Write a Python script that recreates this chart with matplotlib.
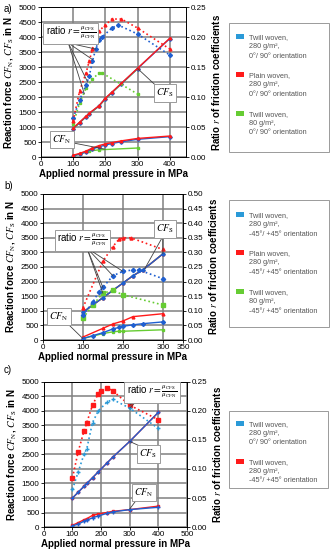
import matplotlib
matplotlib.use("Agg")
import matplotlib.pyplot as plt
from matplotlib.patches import Rectangle

plt.rcParams['font.family'] = ['Liberation Sans', 'DejaVu Sans']
plt.rcParams['mathtext.fontset'] = 'stix'

BLUE = '#1f5fd0'
BLUE_LIGHT = '#2a9ad8'
RED = '#ff1a1a'
GREEN = '#66cc33'
GRID = '#808080'

# ---- panel a) 0/90 orientation ----
a_x = [100, 120, 140, 150, 180, 200, 220, 250, 300, 400]
a_cfs_blue = [950, 1150, 1350, 1450, 1700, 1950, 2150, 2450, 2950, 3950]
a_cfs_red = [960, 1160, 1360, 1460, 1710, 1960, 2160, 2460, 2960, 3960]
a_x_green = [100, 120, 140, 150, 180, 200, 220, 250, 300]
a_cfs_green = [940, 1140, 1340, 1440, 1690, 1940, 2140, 2440, 2940]
a_xn = [100, 120, 140, 160, 180, 200, 220, 250, 300, 400]
a_cfn_blue = [40, 100, 170, 270, 340, 400, 450, 510, 590, 680]
a_cfn_red = [60, 120, 200, 300, 380, 440, 480, 540, 620, 700]
a_xn_green = [100, 120, 150, 180, 300]
a_cfn_green = [30, 100, 200, 240, 300]
a_xr_blue = [100, 120, 140, 150, 160, 170, 180, 190, 220, 240, 300, 400]
a_r_blue = [0.065, 0.095, 0.12, 0.135, 0.16, 0.18, 0.195, 0.20, 0.215, 0.22, 0.205, 0.17]
a_xr_red = [100, 120, 140, 150, 160, 170, 180, 200, 220, 250, 300, 400]
a_r_red = [0.06, 0.11, 0.14, 0.16, 0.18, 0.20, 0.21, 0.22, 0.23, 0.23, 0.215, 0.18]
a_xr_green = [100, 120, 140, 160, 180, 190, 300]
a_r_green = [0.055, 0.09, 0.115, 0.13, 0.14, 0.14, 0.105]

# ---- panel b) -45/+45 orientation ----
b_x = [100, 125, 150, 175, 200, 225, 250, 300]
b_cfs = [950, 1200, 1450, 1700, 1950, 2200, 2400, 2950]
b_xn_red = [100, 150, 175, 200, 225, 300]
b_cfn_red = [100, 400, 550, 650, 800, 900]
b_xn_blue = [100, 125, 150, 175, 190, 200, 225, 250, 300]
b_cfn_blue = [50, 150, 250, 380, 430, 470, 520, 560, 620]
b_xn_green = [100, 150, 175, 190, 200, 300]
b_cfn_green = [50, 220, 280, 300, 300, 350]
b_xr_red = [100, 150, 175, 190, 200, 220, 300]
b_r_red = [0.11, 0.27, 0.32, 0.345, 0.35, 0.35, 0.31]
b_xr_blue = [100, 125, 140, 150, 175, 200, 225, 240, 300]
b_r_blue = [0.085, 0.13, 0.165, 0.18, 0.22, 0.235, 0.24, 0.24, 0.21]
b_xr_green = [100, 125, 150, 175, 200, 300]
b_r_green = [0.075, 0.12, 0.16, 0.17, 0.155, 0.12]

# ---- panel c) twill 280 g/m2, both orientations ----
c_x = [100, 120, 140, 150, 170, 190, 220, 240, 300, 400]
c_cfs = [1000, 1200, 1400, 1500, 1700, 1900, 2200, 2400, 2950, 3950]
c_cfn_red = [60, 150, 250, 290, 400, 450, 500, 540, 600, 720]
c_cfn_blue = [40, 100, 200, 230, 320, 380, 470, 520, 600, 680]
c_xr_red = [100, 120, 140, 150, 170, 190, 200, 220, 240, 300, 400]
c_r_red = [0.085, 0.13, 0.165, 0.18, 0.21, 0.23, 0.235, 0.24, 0.235, 0.21, 0.185]
c_r_blue = [0.065, 0.095, 0.125, 0.135, 0.18, 0.20, 0.215, 0.22, 0.205, 0.17]

leg_a = ['Twill woven,\n280 g/m²,\n0°/ 90° orientation',
         'Plain woven,\n280 g/m²,\n0°/ 90° orientation',
         'Twill woven,\n80 g/m²,\n0°/ 90° orientation']
leg_b = ['Twill woven,\n280 g/m²,\n-45°/ +45° orientation',
         'Plain woven,\n280 g/m²,\n-45°/ +45° orientation',
         'Twill woven,\n80 g/m²,\n-45°/ +45° orientation']
leg_c = ['Twill woven,\n280 g/m²,\n0°/ 90° orientation',
         'Twill woven,\n280 g/m²,\n-45°/ +45° orientation']

RATIO_TXT = r'ratio $r=\frac{\mu_{\rm CFS}}{\mu_{\rm CFN}}$'
CFS_TXT = r'$CF_{\rm S}$'
CFN_TXT = r'$CF_{\rm N}$'

fig = plt.figure(figsize=(3.3, 5.5), dpi=100)


def setup(rect, xmax, xticks, rmax, label, label_y):
    ax = fig.add_axes(rect)
    ax.set_xlim(0, xmax)
    ax.set_ylim(0, 5000)
    ax.set_xticks(xticks)
    ax.set_yticks(range(0, 5001, 500))
    ax.grid(True, color=GRID, lw=1.1)
    ax.set_axisbelow(True)
    ax.tick_params(labelsize=5.8, length=2, width=0.6, pad=1.2)
    ax.set_xlabel('Applied normal pressure in MPa', fontsize=7, fontweight='bold', labelpad=0.5)
    ax.set_ylabel(r'Reaction force $CF_{\rm N}$, $CF_{\rm S}$ in N', fontsize=7,
                  fontweight='bold', labelpad=3)
    ax2 = ax.twinx()
    ax2.set_ylim(0, rmax)
    n = int(round(rmax / 0.05))
    ax2.set_yticks([i * 0.05 for i in range(n + 1)])
    ax2.set_yticklabels([f'{i * 0.05:.2f}' for i in range(n + 1)])
    ax2.tick_params(labelsize=5.8, length=2, width=0.6, pad=1.2)
    ax2.set_ylabel(r'Ratio $r$ of friction coefficients', fontsize=7, fontweight='bold',
                   labelpad=3)
    for a in (ax, ax2):
        for s in a.spines.values():
            s.set_linewidth(0.6)
    fig.text(4 / 330, 1 - label_y / 550, label, fontsize=7, va='center')
    return ax, ax2


def callout(ax, ax2, text, pos, start, targets, fs=7):
    ax2.text(pos[0], pos[1], text, transform=ax.transData, fontsize=fs, ha='center',
             va='center', zorder=20,
             bbox=dict(boxstyle='square,pad=0.25', fc='white', ec='#9a9a9a', lw=0.7))
    for t in targets:
        ax2.annotate('', xy=t, xytext=start, xycoords=ax.transData, textcoords=ax.transData,
                     arrowprops=dict(arrowstyle='-', color='#404040', lw=0.6,
                                     shrinkA=0, shrinkB=0), zorder=15)


def legend_box(x0, y0, x1, y1, entries, colors, ys):
    W, H = 330.0, 550.0
    fig.add_artist(Rectangle((x0 / W, 1 - y1 / H), (x1 - x0) / W, (y1 - y0) / H,
                             transform=fig.transFigure, fc='white', ec='#9a9a9a', lw=0.7))
    for txt, col, y in zip(entries, colors, ys):
        fig.add_artist(Rectangle(((x0 + 7) / W, 1 - (y + 4) / H), 8 / W, 5 / H,
                                 transform=fig.transFigure, fc=col, ec='none'))
        fig.text((x0 + 20) / W, 1 - (y - 1) / H, txt, fontsize=5.2, color='#555555',
                 va='top', ha='left', linespacing=1.45)


# ---------------- a) ----------------
ax, ax2 = setup([0.124, 0.7145, 0.4394, 0.2727], 450, [0, 100, 200, 300, 400], 0.25, 'a)', 9)
ax.plot(a_x_green, a_cfs_green, '-s', color=GREEN, lw=1.0, ms=1.8)
ax.plot(a_x, a_cfs_blue, '-D', color=BLUE, lw=1.0, ms=1.8)
ax.plot(a_x, a_cfs_red, '-^', color=RED, lw=1.0, ms=1.8)
ax.plot(a_xn_green, a_cfn_green, '-s', color=GREEN, lw=1.0, ms=1.8)
ax.plot(a_xn, a_cfn_blue, '-D', color=BLUE, lw=1.0, ms=1.8)
ax.plot(a_xn, a_cfn_red, '-^', color=RED, lw=1.0, ms=1.8)
ax2.plot(a_xr_green, a_r_green, ':s', color=GREEN, lw=1.2, ms=2)
ax2.plot(a_xr_blue, a_r_blue, ':D', color=BLUE, lw=1.2, ms=2)
ax2.plot(a_xr_red, a_r_red, ':^', color=RED, lw=1.2, ms=2)
callout(ax, ax2, RATIO_TXT, (93, 4130), (85, 3800),
        [(170, 3600), (160, 3250), (145, 2500), (135, 2100)])
callout(ax, ax2, CFS_TXT, (385, 2130), (355, 2400), [(300, 2950)])
callout(ax, ax2, CFN_TXT, (65, 590), (95, 480), [(200, 260)])
legend_box(229, 23, 329, 152, leg_a, [BLUE_LIGHT, RED, GREEN], [35, 73, 112])

# ---------------- b) ----------------
ax, ax2 = setup([0.130, 0.3818, 0.4242, 0.2655], 350, [0, 100, 200, 300, 350], 0.5, 'b)', 186)
ax.plot(b_x, b_cfs, '-s', color=GREEN, lw=1.0, ms=1.8)
ax.plot(b_x, b_cfs, '-^', color=RED, lw=1.0, ms=1.8)
ax.plot(b_x, b_cfs, '-D', color=BLUE, lw=1.0, ms=1.8)
ax.plot(b_xn_green, b_cfn_green, '-s', color=GREEN, lw=1.0, ms=2)
ax.plot(b_xn_red, b_cfn_red, '-^', color=RED, lw=1.0, ms=2)
ax.plot(b_xn_blue, b_cfn_blue, '-D', color=BLUE, lw=1.0, ms=2)
ax2.plot(b_xr_green, b_r_green, ':s', color=GREEN, lw=1.2, ms=2.2)
ax2.plot(b_xr_red, b_r_red, ':^', color=RED, lw=1.2, ms=2.2)
ax2.plot(b_xr_blue, b_r_blue, ':D', color=BLUE, lw=1.2, ms=2.2)
callout(ax, ax2, RATIO_TXT, (98, 3420), (110, 3150),
        [(200, 2350), (175, 2200), (150, 1800), (150, 1600)])
callout(ax, ax2, CFS_TXT, (305, 3800), (300, 3550), [(300, 2950), (255, 2450)])
callout(ax, ax2, CFN_TXT, (40, 800), (55, 650), [(100, 50)])
legend_box(229, 200, 329, 327, leg_b, [BLUE_LIGHT, RED, GREEN], [213, 251, 290])

# ---------------- c) ----------------
ax, ax2 = setup([0.133, 0.0418, 0.4333, 0.2637], 500, [0, 100, 200, 300, 400, 500], 0.25, 'c)', 370)
ax.plot(c_x, c_cfs, '-s', color=RED, lw=1.0, ms=2)
ax.plot(c_x, c_cfs, '-+', color=BLUE, lw=1.0, ms=2.5)
ax.plot(c_x, c_cfn_red, '-s', color=RED, lw=1.0, ms=2)
ax.plot(c_x, c_cfn_blue, '-+', color=BLUE, lw=1.0, ms=2.5)
ax2.plot(c_xr_red, c_r_red, ':s', color=RED, lw=1.2, ms=2.2)
ax2.plot(c_x, c_r_blue, ':+', color=BLUE_LIGHT, lw=1.2, ms=2.8)
callout(ax, ax2, RATIO_TXT, (378, 4650), (330, 4400), [(300, 4200), (300, 4100)])
callout(ax, ax2, CFS_TXT, (365, 2520), (345, 2750), [(300, 2950)])
callout(ax, ax2, CFN_TXT, (350, 1190), (325, 950), [(300, 620)])
legend_box(229, 411, 328, 488, leg_c, [BLUE_LIGHT, RED], [422, 460])

fig.savefig('out.png', dpi=100)
